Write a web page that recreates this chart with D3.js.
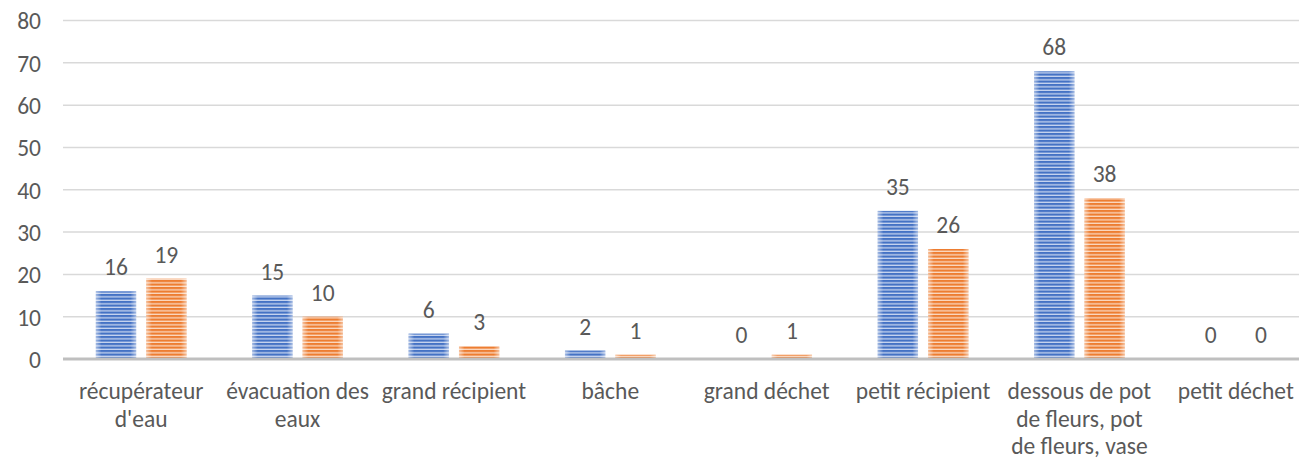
<!DOCTYPE html>
<html>
<head>
<meta charset="utf-8">
<script src="https://cdn.jsdelivr.net/npm/d3@7"></script>
<style>
  html, body { margin: 0; padding: 0; background: #ffffff; }
  svg { display: block; }
  text { font-family: Carlito, Calibri, "Open Sans", sans-serif; fill: #595959; }
</style>
</head>
<body>
<svg id="chart" width="1299" height="459"></svg>
<script>
// Category labels (explicit line breaks as displayed under the axis)
const categories = [
  "récupérateur d'eau",
  "évacuation des eaux",
  "grand récipient",
  "bâche",
  "grand déchet",
  "petit récipient",
  "dessous de pot de fleurs, pot de fleurs, vase",
  "petit déchet"
];
const categoryLines = [
  ["récupérateur", "d'eau"],
  ["évacuation des", "eaux"],
  ["grand récipient"],
  ["bâche"],
  ["grand déchet"],
  ["petit récipient"],
  ["dessous de pot", "de fleurs, pot", "de fleurs, vase"],
  ["petit déchet"]
];
const seriesBlue = [16, 15, 6, 2, 0, 35, 68, 0];
const seriesOrange = [19, 10, 3, 1, 1, 26, 38, 0];
const yTicks = [0, 10, 20, 30, 40, 50, 60, 70, 80];

const svg = d3.select("#chart");
const W = 1299, H = 459;
const plotLeft = 63, plotRight = 1314, plotTop = 20.5, plotBottom = 359;
const labelFont = 23.5, numberFont = 23.5;

const x = d3.scaleBand().domain(categories).range([plotLeft, plotRight])
  .paddingInner(0.42).paddingOuter(0.21);
const xs = d3.scaleBand().domain(["blue", "orange"]).range([0, x.bandwidth()])
  .paddingInner(0.2).paddingOuter(0);
const y = d3.scaleLinear().domain([0, 80]).range([plotBottom, plotTop]);

const series = [
  { key: "blue", values: seriesBlue, dark: "#4472c4", light: "#c9d6f0" },
  { key: "orange", values: seriesOrange, dark: "#ed7d31", light: "#fbd9c2" }
];

// Striped fills and soft edge highlight
const defs = svg.append("defs");
series.forEach(s => {
  const p = defs.append("pattern")
    .attr("id", "stripe-" + s.key)
    .attr("patternUnits", "userSpaceOnUse")
    .attr("width", 8).attr("height", 3.5);
  p.append("rect").attr("width", 8).attr("height", 3.5).attr("fill", s.light);
  p.append("rect").attr("width", 8).attr("height", 2.2).attr("fill", s.dark);
});
const edge = defs.append("linearGradient").attr("id", "edge")
  .attr("x1", "0%").attr("x2", "100%").attr("y1", "0%").attr("y2", "0%");
[[0, 0.5], [0.14, 0], [0.86, 0], [1, 0.5]].forEach(([o, a]) => {
  edge.append("stop").attr("offset", o).attr("stop-color", "#ffffff").attr("stop-opacity", a);
});

// Gridlines
svg.append("g").selectAll("line")
  .data(yTicks.filter(t => t > 0))
  .join("line")
  .attr("x1", plotLeft).attr("x2", W)
  .attr("y1", d => y(d)).attr("y2", d => y(d))
  .attr("stroke", "#d9d9d9").attr("stroke-width", 1.5);

// Y axis tick labels
const yAxis = d3.axisLeft(y).tickValues(yTicks).tickSize(0).tickPadding(0);
const gy = svg.append("g").attr("transform", `translate(41,0)`).call(yAxis);
gy.select(".domain").remove();
gy.selectAll("text").attr("font-size", numberFont).attr("fill", "#595959")
  .attr("dy", "0.36em")
  .style("font-family", "Carlito, Calibri, 'Open Sans', sans-serif");

// Bars
const groups = svg.append("g").selectAll("g")
  .data(categories)
  .join("g")
  .attr("transform", d => `translate(${x(d)},0)`);

series.forEach(s => {
  groups.each(function(cat, i) {
    const v = s.values[i];
    const g = d3.select(this);
    const bx = xs(s.key), bw = xs.bandwidth();
    if (v > 0) {
      const by = y(v), bh = y(0) - y(v);
      g.append("rect")
        .attr("x", bx).attr("y", by).attr("width", bw).attr("height", bh)
        .attr("fill", `url(#stripe-${s.key})`);
      g.append("rect")
        .attr("x", bx).attr("y", by).attr("width", bw).attr("height", bh)
        .attr("fill", "url(#edge)");
    }
    g.append("text")
      .attr("x", bx + bw / 2)
      .attr("y", y(v) - 16)
      .attr("text-anchor", "middle")
      .attr("font-size", numberFont)
      .text(v);
  });
});

// Baseline axis
svg.append("line")
  .attr("x1", plotLeft).attr("x2", W)
  .attr("y1", y(0)).attr("y2", y(0))
  .attr("stroke", "#bfbfbf").attr("stroke-width", 3);

// Category labels
const xl = svg.append("g");
categories.forEach((c, i) => {
  const cx = x(c) + x.bandwidth() / 2;
  const t = xl.append("text")
    .attr("x", cx)
    .attr("text-anchor", "middle")
    .attr("font-size", labelFont);
  categoryLines[i].forEach((line, j) => {
    t.append("tspan").attr("x", cx)
      .attr("y", 399 + j * 27.5).text(line);
  });
});
</script>
</body>
</html>
